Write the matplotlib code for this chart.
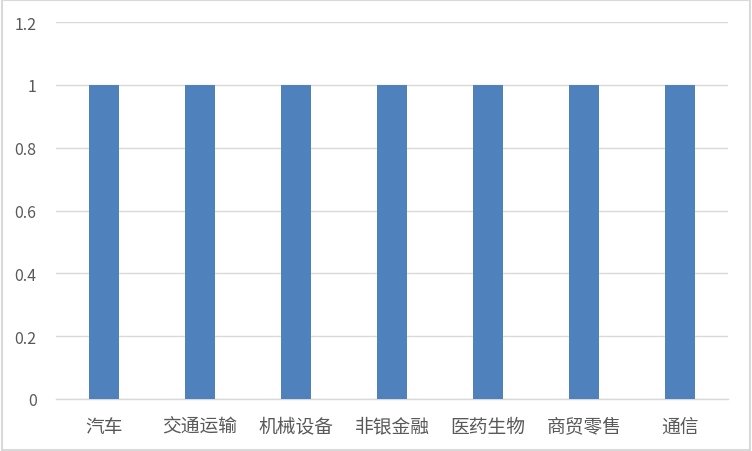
import matplotlib
matplotlib.use("Agg")
import matplotlib.pyplot as plt
from matplotlib.patches import Rectangle

plt.rcParams['font.family'] = ['Noto Sans CJK SC', 'DejaVu Sans']

categories = ["汽车", "交通运输", "机械设备", "非银金融", "医药生物", "商贸零售", "通信"]
values = [1, 1, 1, 1, 1, 1, 1]
yticks = [0, 0.2, 0.4, 0.6, 0.8, 1, 1.2]
ytick_labels = ["0", "0.2", "0.4", "0.6", "0.8", "1", "1.2"]

fig = plt.figure(figsize=(7.52, 4.52), dpi=100)
ax = fig.add_axes([56 / 752, 52 / 452, 672 / 752, 377 / 452])

ax.bar(range(len(categories)), values, width=0.31, color="#4F81BD", zorder=3)
ax.set_xlim(-0.5, len(categories) - 0.5)
ax.set_ylim(0, 1.2)
ax.set_yticks(yticks)
ax.set_yticklabels(ytick_labels)
ax.set_xticks(range(len(categories)))
ax.set_xticklabels(categories)
ax.yaxis.grid(True, color="#D9D9D9", linewidth=1, zorder=0)
for s in ["top", "right", "left"]:
    ax.spines[s].set_visible(False)
ax.spines["bottom"].set_color("#D9D9D9")
ax.spines["bottom"].set_linewidth(1)
ax.tick_params(axis="both", length=0, colors="#595959")
ax.tick_params(axis="y", pad=14, labelsize=11.5)
ax.tick_params(axis="x", pad=12, labelsize=13.5)

# outer chart border
fig.patches.append(Rectangle((0.002, 0.002), 0.996, 0.996, transform=fig.transFigure,
                             fill=False, edgecolor="#D9D9D9", linewidth=1.5))

fig.savefig("out.png", dpi=100)
